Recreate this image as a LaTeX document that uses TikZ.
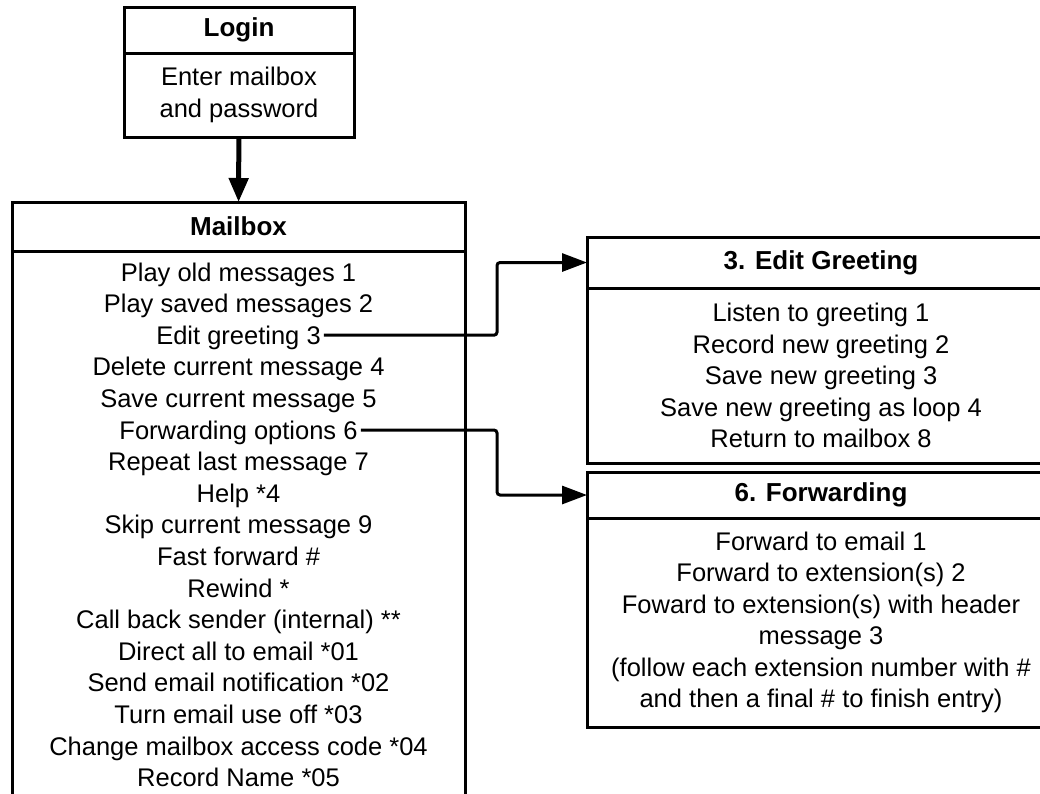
\documentclass[tikz,border=0pt]{standalone}
\usepackage{fontspec}
\setmainfont{Liberation Sans}
\usetikzlibrary{arrows.meta, positioning}
\tikzset{
  headbox/.style={draw, line width=3pt, outer sep=0pt, inner sep=0pt, anchor=north west,
                  font=\fontsize{26}{30}\selectfont\bfseries},
  bodybox/.style={draw, line width=3pt, outer sep=0pt, inner sep=0pt, align=center,
                  font=\fontsize{25.5}{31.5}\selectfont},
  item/.style={inner sep=3pt, text height=18pt, text depth=0pt,
               font=\fontsize{25.5}{31.5}\selectfont},
  arr/.style={-{Triangle[length=25pt, width=18pt]}, line width=3pt, rounded corners=3pt},
  bigarr/.style={-{Triangle[length=24pt, width=19pt]}, line width=5pt},
}

\begin{document}
\begin{tikzpicture}[x=1pt, y=-1pt]
  \useasboundingbox (0,0) rectangle (1040,793);
  \clip (0,0) rectangle (1040,793);
  \fill[white] (0,0) rectangle (1040,793);

  %% Login
  \node[headbox, minimum width=230pt, minimum height=46pt] (lghead) at (124,7) {Login};
  \node[bodybox, minimum width=230pt, minimum height=84pt, below=0pt of lghead] (lgbody)
    {Enter mailbox\\and password};

  %% Mailbox (runs past the bottom edge)
  \node[headbox, minimum width=453pt, minimum height=49pt] (mhead) at (12,202) {Mailbox};
  \node[bodybox, minimum width=453pt, minimum height=620pt, below=0pt of mhead] (mbody) {};
  \foreach \txt [count=\i] in {
    Play old messages 1, Play saved messages 2, Edit greeting 3,
    Delete current message 4, Save current message 5, Forwarding options 6,
    Repeat last message 7, Help *4, Skip current message 9, Fast forward \#,
    Rewind *, Call back sender (internal) **, Direct all to email *01,
    Send email notification *02, Turn email use off *03,
    Change mailbox access code *04, Record Name *05}{
    \node[item] (mb\i) at (238.5, {272+(\i-1)*31.6}) {\txt};
  }

  %% 3. Edit Greeting
  \node[headbox, minimum width=468pt, minimum height=51pt] (eghead) at (587,237) {3. Edit Greeting};
  \node[bodybox, minimum width=468pt, minimum height=175pt, below=0pt of eghead] (egbody)
    {Listen to greeting 1\\Record new greeting 2\\Save new greeting 3\\
     Save new greeting as loop 4\\Return to mailbox 8};

  %% 6. Forwarding
  \node[headbox, minimum width=468pt, minimum height=46pt] (fwhead) at (587,472) {6. Forwarding};
  \node[bodybox, minimum width=468pt, minimum height=209pt, below=0pt of fwhead] (fwbody)
    {Forward to email 1\\Forward to extension(s) 2\\Foward to extension(s) with header\\
     message 3\\(follow each extension number with \#\\and then a final \# to finish entry)};

  %% Connectors
  \coordinate (jog) at ([xshift=32pt]mhead.east);
  \draw[bigarr] (lgbody) -- (mhead);
  \draw[arr] (mb3.east) -- (mb3.east -| jog) |- (eghead.west);
  \draw[arr] (mb6.east) -- (mb6.east -| jog) |- (fwhead.west);
\end{tikzpicture}
\end{document}
